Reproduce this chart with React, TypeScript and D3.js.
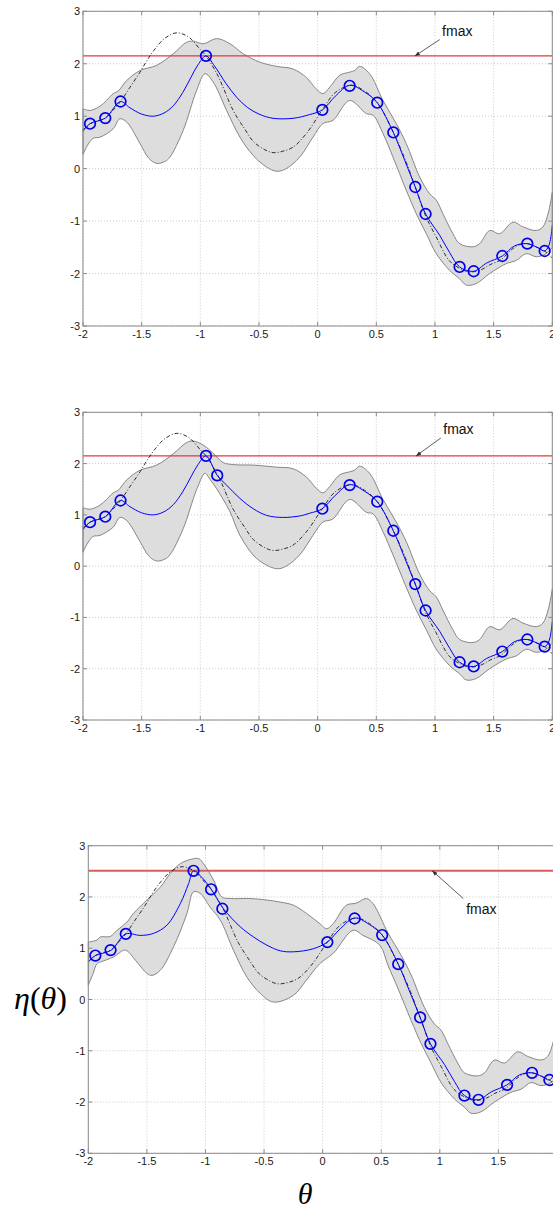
import React from 'react';
import * as d3 from 'd3';

type P = [number, number];

// ---- axes ----
const xTicks = [-2, -1.5, -1, -0.5, 0, 0.5, 1, 1.5, 2];
const xTickLabels = ['-2', '-1.5', '-1', '-0.5', '0', '0.5', '1', '1.5', '2'];
const yTicks = [3, 2, 1, 0, -1, -2, -3];
const yTickLabels = ['3', '2', '1', '0', '-1', '-2', '-3'];

// ---- objective function eta(theta), dash-dot curve ----
const trueCurve: P[] = [
  [-2.0, 0.74], [-1.94, 0.857], [-1.81, 0.964], [-1.75, 1.1], [-1.68, 1.28], [-1.6, 1.55],
  [-1.514, 1.84], [-1.45, 2.08], [-1.38, 2.3], [-1.3, 2.49], [-1.2, 2.59], [-1.1, 2.51],
  [-1.0, 2.27], [-0.952, 2.15], [-0.85, 1.77], [-0.72, 1.11], [-0.62, 0.75], [-0.549, 0.52],
  [-0.45, 0.36], [-0.38, 0.305], [-0.3, 0.33], [-0.21, 0.41], [-0.097, 0.667], [0.04, 1.12],
  [0.15, 1.45], [0.29, 1.59], [0.4, 1.48], [0.508, 1.257], [0.645, 0.69], [0.75, 0.15],
  [0.832, -0.35], [0.92, -0.9], [1.01, -1.3], [1.12, -1.75], [1.21, -1.9], [1.3, -1.97],
  [1.4, -1.92], [1.47, -1.83], [1.56, -1.74], [1.65, -1.55], [1.72, -1.45], [1.787, -1.43],
  [1.87, -1.5], [1.935, -1.57], [2.0, -1.71],
];

// ---- evaluated samples ----
const samplesBase: P[] = [
  [-1.94, 0.857], [-1.81, 0.964], [-1.68, 1.28], [-0.952, 2.15], [0.04, 1.12], [0.273, 1.58],
  [0.508, 1.257], [0.645, 0.69], [0.832, -0.35], [0.92, -0.865], [1.21, -1.874], [1.33, -1.956],
  [1.574, -1.665], [1.787, -1.43], [1.935, -1.57],
];
const samplesAdded2: P[] = [[-0.856, 1.77]];
const samplesAdded3: P[] = [[-1.102, 2.51], [-0.856, 1.77]];

// ---- GP posterior mean ----
const meanRight: P[] = [
  [0.04, 1.12], [0.15, 1.38], [0.273, 1.59], [0.4, 1.46], [0.508, 1.257], [0.645, 0.69],
  [0.74, 0.17], [0.832, -0.35], [0.92, -0.865], [1.04, -1.27], [1.125, -1.6], [1.21, -1.874],
  [1.33, -1.956], [1.44, -1.8], [1.574, -1.665], [1.68, -1.47], [1.787, -1.43], [1.87, -1.5],
  [1.935, -1.57], [1.968, -1.48], [1.988, -1.3], [2.0, -1.08],
];
const meanLeft1: P[] = [
  [-2.0, 0.71], [-1.94, 0.857], [-1.81, 0.964], [-1.68, 1.28], [-1.6, 1.16], [-1.5, 1.04],
  [-1.4, 1.0], [-1.31, 1.06], [-1.23, 1.2], [-1.15, 1.45], [-1.08, 1.74], [-1.02, 1.98],
  [-0.952, 2.15], [-0.88, 1.96], [-0.78, 1.62], [-0.69, 1.36], [-0.6, 1.17], [-0.5, 1.04],
  [-0.38, 0.96], [-0.21, 0.96], [-0.07, 1.03],
];
const meanLeft2: P[] = [
  [-2.0, 0.71], [-1.94, 0.857], [-1.81, 0.964], [-1.68, 1.28], [-1.6, 1.16], [-1.5, 1.04],
  [-1.4, 1.0], [-1.31, 1.06], [-1.23, 1.2], [-1.15, 1.45], [-1.08, 1.74], [-1.02, 1.98],
  [-0.952, 2.15], [-0.856, 1.77], [-0.776, 1.58], [-0.662, 1.32], [-0.549, 1.12],
  [-0.435, 0.99], [-0.3, 0.95], [-0.15, 0.98], [-0.07, 1.03],
];
const meanLeft3: P[] = [
  [-2.0, 0.73], [-1.94, 0.857], [-1.806, 0.96], [-1.68, 1.28], [-1.556, 1.25], [-1.443, 1.29],
  [-1.329, 1.45], [-1.215, 1.87], [-1.144, 2.26], [-1.102, 2.51], [-1.03, 2.38], [-0.954, 2.16],
  [-0.846, 1.77], [-0.704, 1.42], [-0.59, 1.22], [-0.476, 1.06], [-0.362, 0.95], [-0.25, 0.93],
  [-0.08, 0.99],
];

// ---- confidence band ----
const upperRight: P[] = [
  [0.557, 1.3], [0.67, 0.86], [0.755, 0.48], [0.87, -0.16], [0.955, -0.48], [1.011, -0.6],
  [1.068, -0.86], [1.153, -1.24], [1.21, -1.43], [1.324, -1.49], [1.381, -1.43], [1.466, -1.18],
  [1.551, -1.24], [1.665, -1.02], [1.75, -1.11], [1.864, -1.18], [1.92, -1.11], [1.965, -0.85],
  [2.0, -0.45],
];
const lowerRight: P[] = [
  [0.557, 0.67], [0.642, 0.22], [0.755, -0.41], [0.841, -0.86], [0.926, -1.24], [1.011, -1.62],
  [1.125, -1.94], [1.21, -2.1], [1.267, -2.22], [1.352, -2.19], [1.466, -2.0], [1.608, -1.81],
  [1.693, -1.75], [1.778, -1.62], [1.864, -1.68], [1.949, -1.62], [2.0, -1.5],
];
const upperLeft1: P[] = [
  [-2.0, 1.14], [-1.94, 1.11], [-1.855, 1.19], [-1.8, 1.3], [-1.743, 1.43], [-1.7, 1.48],
  [-1.628, 1.68], [-1.514, 1.87], [-1.372, 1.97], [-1.231, 2.19], [-1.117, 2.41], [-1.06, 2.43],
  [-0.975, 2.38], [-0.861, 2.48], [-0.747, 2.38], [-0.634, 2.19], [-0.492, 2.03], [-0.35, 1.95],
  [-0.21, 1.9], [-0.097, 1.74], [-0.012, 1.52], [0.045, 1.43], [0.102, 1.55], [0.188, 1.78],
  [0.273, 1.84], [0.315, 1.87], [0.358, 1.95], [0.443, 1.81],
];
const lowerLeft1: P[] = [
  [-2.0, 0.27], [-1.96, 0.45], [-1.913, 0.58], [-1.855, 0.6], [-1.743, 0.76], [-1.686, 0.95],
  [-1.628, 0.89], [-1.514, 0.48], [-1.44, 0.2], [-1.372, 0.1], [-1.3, 0.14], [-1.259, 0.22],
  [-1.146, 0.73], [-1.032, 1.49], [-0.96, 1.81], [-0.89, 1.65], [-0.776, 1.11], [-0.662, 0.6],
  [-0.549, 0.25], [-0.435, 0.03], [-0.35, -0.05], [-0.268, 0.0], [-0.153, 0.22], [-0.04, 0.6],
  [0.045, 0.86], [0.13, 0.92], [0.273, 1.3], [0.415, 1.05], [0.472, 1.02],
];
const upperLeft2: P[] = [
  [-2.0, 1.14], [-1.94, 1.11], [-1.855, 1.19], [-1.8, 1.3], [-1.743, 1.43], [-1.7, 1.48],
  [-1.628, 1.68], [-1.514, 1.87], [-1.372, 1.97], [-1.231, 2.19], [-1.117, 2.41], [-1.06, 2.44],
  [-0.975, 2.36], [-0.89, 2.2], [-0.805, 2.02], [-0.72, 1.98], [-0.549, 1.97], [-0.35, 1.93],
  [-0.21, 1.9], [-0.097, 1.74], [-0.012, 1.52], [0.045, 1.43], [0.102, 1.55], [0.188, 1.78],
  [0.273, 1.84], [0.315, 1.87], [0.358, 1.95], [0.443, 1.81],
];
const lowerLeft2: P[] = [
  [-2.0, 0.27], [-1.96, 0.45], [-1.913, 0.58], [-1.855, 0.6], [-1.743, 0.76], [-1.686, 0.95],
  [-1.628, 0.89], [-1.514, 0.48], [-1.44, 0.2], [-1.372, 0.1], [-1.3, 0.14], [-1.259, 0.22],
  [-1.146, 0.73], [-1.032, 1.49], [-0.96, 1.81], [-0.92, 1.7], [-0.861, 1.51], [-0.747, 1.06],
  [-0.662, 0.6], [-0.52, 0.15], [-0.35, -0.05], [-0.268, 0.0], [-0.153, 0.22], [-0.04, 0.6],
  [0.045, 0.86], [0.13, 0.92], [0.273, 1.3], [0.415, 1.05], [0.472, 1.02],
];
const upperLeft3: P[] = [
  [-2.0, 1.12], [-1.926, 1.16], [-1.898, 1.22], [-1.812, 1.23], [-1.755, 1.35], [-1.67, 1.51],
  [-1.614, 1.68], [-1.5, 1.94], [-1.386, 2.19], [-1.3, 2.46], [-1.215, 2.65], [-1.13, 2.73],
  [-1.059, 2.75], [-1.017, 2.65], [-0.931, 2.33], [-0.86, 2.0], [-0.789, 1.97], [-0.618, 1.97],
  [-0.476, 1.94], [-0.362, 1.9], [-0.25, 1.84], [-0.138, 1.68], [-0.024, 1.48], [0.033, 1.38],
  [0.09, 1.48], [0.203, 1.84], [0.288, 1.88], [0.373, 1.97], [0.43, 1.87],
];
const lowerLeft3: P[] = [
  [-2.0, 0.28], [-1.96, 0.5], [-1.926, 0.7], [-1.898, 0.73], [-1.784, 0.83], [-1.699, 0.96],
  [-1.67, 0.95], [-1.585, 0.73], [-1.5, 0.51], [-1.457, 0.47], [-1.386, 0.57], [-1.272, 1.03],
  [-1.158, 1.68], [-1.102, 2.1], [-1.045, 2.07], [-0.96, 1.8], [-0.874, 1.55], [-0.761, 0.96],
  [-0.647, 0.44], [-0.533, 0.12], [-0.42, -0.05], [-0.25, 0.08], [-0.138, 0.38], [-0.024, 0.7],
  [0.09, 0.9], [0.26, 1.35], [0.345, 1.25], [0.488, 1.06],
];

type PanelCfg = {
  left: number; right: number; top: number; bottom: number;
  mean: P[]; upper: P[]; lower: P[]; samples: P[];
  label: P; arrowFrom: P; arrowToX: number;
  redColor: string; redWidth: number;
  axisTitles: boolean;
};

const panels: PanelCfg[] = [
  {
    left: 83, right: 552.3, top: 11.3, bottom: 326,
    mean: [...meanLeft1, ...meanRight], upper: [...upperLeft1, ...upperRight],
    lower: [...lowerLeft1, ...lowerRight], samples: samplesBase,
    label: [1.19, 2.52], arrowFrom: [1.04, 2.46], arrowToX: 0.83,
    redColor: '#e03a3a', redWidth: 1.3, axisTitles: false,
  },
  {
    left: 83, right: 552.3, top: 412.3, bottom: 720,
    mean: [...meanLeft2, ...meanRight], upper: [...upperLeft2, ...upperRight],
    lower: [...lowerLeft2, ...lowerRight], samples: [...samplesBase, ...samplesAdded2],
    label: [1.2, 2.57], arrowFrom: [1.05, 2.5], arrowToX: 0.84,
    redColor: '#e03a3a', redWidth: 1.3, axisTitles: false,
  },
  {
    left: 88.3, right: 557, top: 845.7, bottom: 1153.3,
    mean: [...meanLeft3, ...meanRight], upper: [...upperLeft3, ...upperRight],
    lower: [...lowerLeft3, ...lowerRight], samples: [...samplesBase, ...samplesAdded3],
    label: [1.354, 1.66], arrowFrom: [1.2, 1.97], arrowToX: 0.936,
    redColor: '#d85c5c', redWidth: 2, axisTitles: true,
  },
];

const tickFont = '"Liberation Sans", Arial, sans-serif';
const mathFont = '"Liberation Serif", "Times New Roman", serif';

function Panel({ cfg, idx }: { cfg: PanelCfg; idx: number }) {
  const x = d3.scaleLinear().domain([-2, 2]).range([cfg.left, cfg.right]);
  const y = d3.scaleLinear().domain([-3, 3]).range([cfg.bottom, cfg.top]);
  const line = d3
    .line<P>()
    .x((d) => x(d[0]))
    .y((d) => y(d[1]))
    .curve(d3.curveCatmullRom.alpha(0.5));

  const upperPath = line(cfg.upper) as string;
  const lowerRev = line([...cfg.lower].reverse()) as string;
  const bandPath = upperPath + 'L' + lowerRev.slice(1) + 'Z';

  const fmax = d3.max(cfg.samples, (d) => d[1]) as number;
  const markerId = `arrowhead-${idx}`;

  return (
    <g>
      <defs>
        <marker id={markerId} viewBox="0 0 10 10" refX="9" refY="5" markerWidth="7" markerHeight="7" orient="auto">
          <path d="M0,1.5 L10,5 L0,8.5 Z" fill="#333" />
        </marker>
      </defs>

      {/* dotted grid */}
      {xTicks.map((t) => (
        <line key={`gx${t}`} x1={x(t)} x2={x(t)} y1={cfg.top} y2={cfg.bottom}
          stroke="#bdbdbd" strokeWidth={0.8} strokeDasharray="1,2" />
      ))}
      {yTicks.map((t) => (
        <line key={`gy${t}`} x1={cfg.left} x2={cfg.right} y1={y(t)} y2={y(t)}
          stroke="#bdbdbd" strokeWidth={0.8} strokeDasharray="1,2" />
      ))}

      {/* confidence band */}
      <path d={bandPath} fill="#dddddd" stroke="#7a7a7a" strokeWidth={0.9} />

      {/* fmax level */}
      <line x1={cfg.left} x2={cfg.right} y1={y(fmax)} y2={y(fmax)}
        stroke={cfg.redColor} strokeWidth={cfg.redWidth} />

      {/* objective function */}
      <path d={line(trueCurve) as string} fill="none" stroke="#1a1a1a" strokeWidth={0.9}
        strokeDasharray="4,2,1,2" />

      {/* posterior mean */}
      <path d={line(cfg.mean) as string} fill="none" stroke="#0000ff" strokeWidth={1} />

      {/* samples */}
      {cfg.samples.map((d, i) => (
        <circle key={`s${i}`} cx={x(d[0])} cy={y(d[1])} r={5.3} fill="none"
          stroke="#0000ee" strokeWidth={1.7} />
      ))}

      {/* axis box */}
      <rect x={cfg.left} y={cfg.top} width={cfg.right - cfg.left} height={cfg.bottom - cfg.top}
        fill="none" stroke="#8a8a8a" strokeWidth={1} />
      {xTicks.map((t) => (
        <g key={`tx${t}`}>
          <line x1={x(t)} x2={x(t)} y1={cfg.bottom} y2={cfg.bottom - 4} stroke="#8a8a8a" />
          <line x1={x(t)} x2={x(t)} y1={cfg.top} y2={cfg.top + 4} stroke="#8a8a8a" />
        </g>
      ))}
      {yTicks.map((t) => (
        <g key={`ty${t}`}>
          <line x1={cfg.left} x2={cfg.left + 4} y1={y(t)} y2={y(t)} stroke="#8a8a8a" />
          <line x1={cfg.right} x2={cfg.right - 4} y1={y(t)} y2={y(t)} stroke="#8a8a8a" />
        </g>
      ))}

      {/* tick labels */}
      {xTicks.map((t, i) => (
        <text key={`lx${t}`} x={x(t)} y={cfg.bottom + 12} textAnchor="middle"
          fontFamily={tickFont} fontSize={11} fill="#1a1a1a">{xTickLabels[i]}</text>
      ))}
      {yTicks.map((t, i) => (
        <text key={`ly${t}`} x={cfg.left - 3} y={y(t) + 4} textAnchor="end"
          fontFamily={tickFont} fontSize={11} fill="#1a1a1a">{yTickLabels[i]}</text>
      ))}

      {/* fmax annotation */}
      <line x1={x(cfg.arrowFrom[0])} y1={y(cfg.arrowFrom[1])} x2={x(cfg.arrowToX)} y2={y(fmax)}
        stroke="#333" strokeWidth={0.8} markerEnd={`url(#${markerId})`} />
      <text x={x(cfg.label[0])} y={y(cfg.label[1])} textAnchor="middle"
        fontFamily={tickFont} fontSize={14} fill="#111">fmax</text>

      {cfg.axisTitles && (
        <>
          <text x={14} y={y(0) + 9} fontFamily={mathFont} fontSize={32} fill="#000">
            <tspan fontStyle="italic">η</tspan>(<tspan fontStyle="italic">θ</tspan>)
          </text>
          <text x={x(-0.15)} y={cfg.bottom + 51} textAnchor="middle" fontFamily={mathFont}
            fontSize={30} fontStyle="italic" fill="#000">θ</text>
        </>
      )}
    </g>
  );
}

export default function App() {
  return (
    <svg width={553} height={1208} viewBox="0 0 553 1208"
      style={{ position: 'absolute', left: 0, top: 0, background: '#fff' }}>
      <rect x={0} y={0} width={553} height={1208} fill="#fff" />
      {panels.map((p, i) => (
        <Panel key={i} cfg={p} idx={i} />
      ))}
    </svg>
  );
}
